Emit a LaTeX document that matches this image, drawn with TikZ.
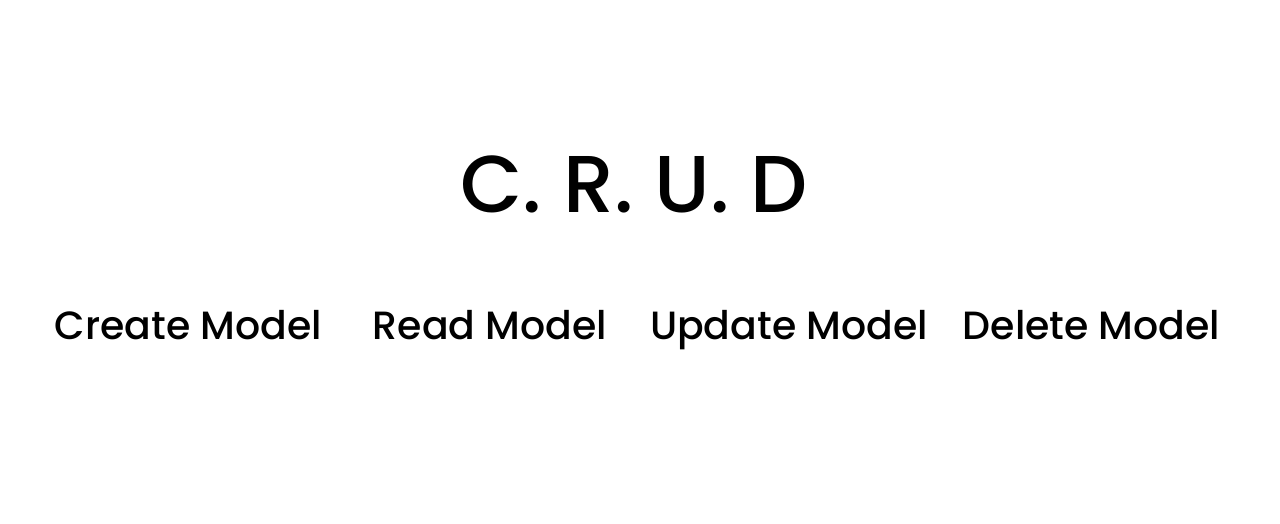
\documentclass[tikz,border=0pt]{standalone}
\usepackage{fontspec}
\setmainfont{Poppins}[UprightFont=* Medium]
\usepackage{tikz}

\begin{document}
\begin{tikzpicture}[x=1pt,y=-1pt]
\tikzstyle{every node}+=[inner sep=0pt]
\tikzstyle{crudtitle}=[anchor=base,font=\fontsize{80.6}{90}\selectfont]
\tikzstyle{modelname}=[anchor=base,font=\fontsize{39.4}{44}\selectfont]
\useasboundingbox (0,0) rectangle (1280,524);
\node [crudtitle] (crud) at (634,212) {C. R. U. D};
\node [modelname] (create) at (188.5,339) {Create Model};
\node [modelname] (read) at (490,339) {Read Model};
\node [modelname] (update) at (789,339) {Update Model};
\node [modelname] (delete) at (1091.5,339) {Delete Model};
\end{tikzpicture}
\end{document}
